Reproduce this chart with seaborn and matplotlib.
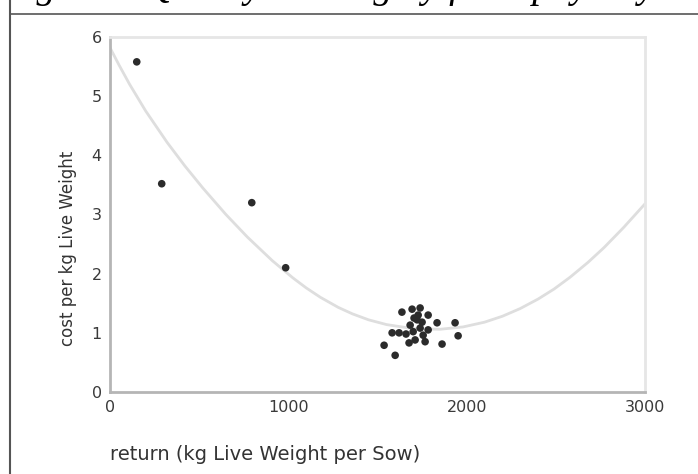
import matplotlib
matplotlib.use("Agg")
import matplotlib.pyplot as plt
from matplotlib.lines import Line2D
import pandas as pd
import seaborn as sns

# farm values
return_kg = [150, 290, 795, 985,
             1537, 1599, 1582, 1621, 1637, 1694, 1739, 1784, 1834, 1722,
             1739, 1700, 1756, 1767, 1711, 1677, 1862, 1935, 1952, 1728,
             1683, 1784, 1750, 1705, 1660]
cost_kg = [5.58, 3.52, 3.2, 2.1,
           0.79, 0.62, 1.0, 1.0, 1.35, 1.40, 1.42, 1.30, 1.17, 1.22,
           1.08, 1.02, 0.96, 0.85, 0.88, 0.83, 0.81, 1.17, 0.95, 1.30,
           1.13, 1.05, 1.18, 1.25, 0.98]

# quadratic trend line
curve_x = [0, 50, 110, 200, 320, 420, 520, 650, 770, 910, 1025, 1100, 1180,
           1280, 1360, 1450, 1550, 1700, 1850, 1980, 2100, 2200, 2300, 2400,
           2490, 2580, 2680, 2770, 2880, 3000]
curve_y = [5.82, 5.53, 5.2, 4.75, 4.22, 3.82, 3.45, 3.0, 2.62, 2.22, 1.93,
           1.76, 1.6, 1.43, 1.32, 1.22, 1.14, 1.07, 1.06, 1.1, 1.18, 1.28,
           1.41, 1.57, 1.74, 1.94, 2.19, 2.44, 2.78, 3.18]

x_ticks = [0, 1000, 2000, 3000]
y_ticks = [0, 1, 2, 3, 4, 5, 6]

# only the bottom of this line survives the page crop
caption = "Figure 2 Quality ranking by farm pay & yield (sp)"

df = pd.DataFrame({"return": return_kg, "cost": cost_kg})
fit = pd.DataFrame({"return": curve_x, "cost": curve_y})

sns.set_style("white")
plt.rcParams["font.family"] = ["DejaVu Sans"]

fig = plt.figure(figsize=(6.98, 4.74), dpi=100)
ax = fig.add_axes([110 / 698, 1 - 392 / 474, 535 / 698, 355 / 474])

sns.lineplot(data=fit, x="return", y="cost", ax=ax, color="#dedede", lw=2,
             sort=False)
sns.scatterplot(data=df, x="return", y="cost", ax=ax, color="#2b2b2b",
                s=30, edgecolor="none", zorder=3)

ax.set_xlim(0, 3000)
ax.set_ylim(0, 6)
ax.set_xticks(x_ticks)
ax.set_yticks(y_ticks)
ax.tick_params(axis="both", length=2, width=2, color="#333333",
               labelsize=11.5, labelcolor="#3a3a3a", pad=4)

for side in ["left", "bottom"]:
    ax.spines[side].set_color("#b5b5b5")
    ax.spines[side].set_linewidth(2)
for side in ["top", "right"]:
    ax.spines[side].set_color("#e6e6e6")
    ax.spines[side].set_linewidth(2)

ax.set_xlabel("return (kg Live Weight per Sow)", fontsize=14, color="#333333",
              ha="left")
ax.set_ylabel("cost per kg Live Weight", fontsize=12, color="#333333")
ax.xaxis.set_label_coords(0.0, -0.15)
ax.yaxis.set_label_coords(-0.062, 0.405)

# table cell border and the clipped caption above it
fig.add_artist(Line2D([10 / 698, 10 / 698], [0, 1], color="#555555", lw=1.5,
                      transform=fig.transFigure))
fig.add_artist(Line2D([10 / 698, 1], [1 - 14 / 474, 1 - 14 / 474],
                      color="#555555", lw=1.2, transform=fig.transFigure))
fig.text(2 / 698, 1 + 3.5 / 474, caption,
         family="Liberation Serif", style="italic", fontsize=28, color="black",
         va="baseline", ha="left")

fig.savefig("out.png", dpi=100)
